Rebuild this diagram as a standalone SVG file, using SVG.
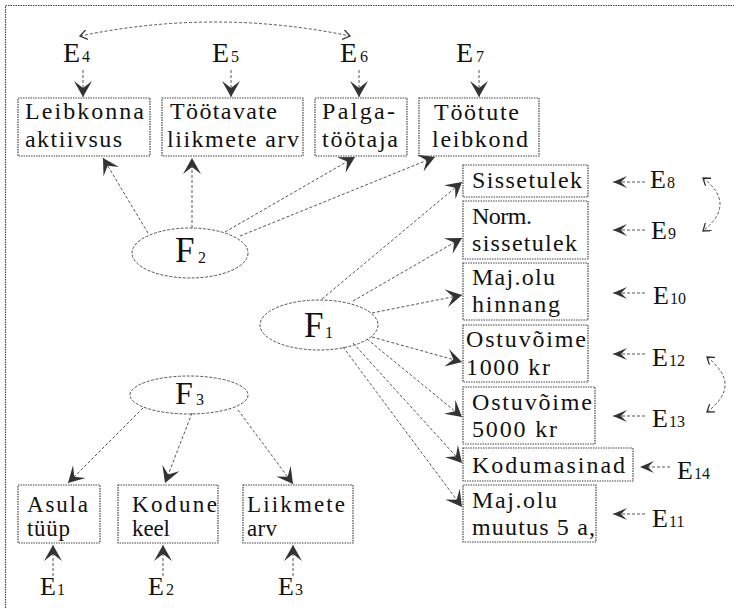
<svg xmlns="http://www.w3.org/2000/svg" width="734" height="608" viewBox="0 0 734 608">
<defs>
<style>
.bx{fill:none;stroke:#444;stroke-width:1.2;stroke-dasharray:1.5 1}
.el{fill:none;stroke:#555;stroke-width:1;stroke-dasharray:3 1.5}
.t{font-family:"Liberation Serif","Times New Roman",serif;font-size:24px;fill:#111}
.tb{font-family:"Liberation Serif","Times New Roman",serif;font-size:23px;fill:#111}
.e{font-family:"Liberation Serif","Times New Roman",serif;font-size:26px;fill:#111}
.et{font-family:"Liberation Serif","Times New Roman",serif;font-size:28px;fill:#111}
.s{font-family:"Liberation Serif","Times New Roman",serif;font-size:16px;fill:#111}
.f{font-family:"Liberation Serif","Times New Roman",serif;font-size:35px;fill:#111}
.c{fill:none;stroke:#555;stroke-width:1;stroke-dasharray:3 2}
.cb{marker-end:url(#big)}
.cs{marker-end:url(#small)}
.arc{fill:none;stroke:#555;stroke-width:1;stroke-dasharray:3 2;marker-start:url(#tiny);marker-end:url(#tiny)}
</style>
<marker id="big" markerUnits="userSpaceOnUse" markerWidth="16" markerHeight="18" viewBox="0 0 16 18" refX="16" refY="9" orient="auto">
<path d="M0,0 L16,9 L0,18 L7,9 Z" fill="#333"/>
</marker>
<marker id="small" markerUnits="userSpaceOnUse" markerWidth="14" markerHeight="12" viewBox="0 0 14 12" refX="14" refY="6" orient="auto">
<path d="M0,0 L14,6 L0,12 L6,6 Z" fill="#333"/>
</marker>
<marker id="tiny" markerUnits="userSpaceOnUse" markerWidth="8" markerHeight="10" viewBox="0 0 8 10" refX="7" refY="5" orient="auto-start-reverse">
<path d="M0,0 L7,5 L0,10" fill="none" stroke="#333" stroke-width="1.3"/>
</marker>
</defs>
<rect x="0" y="0" width="734" height="608" fill="#fff"/>
<rect x="5.5" y="5.5" width="740" height="620" fill="none" stroke="#444" stroke-width="1.2" stroke-dasharray="1.5 1"/>

<g id="connectors">
<path class="arc" d="M80,36 Q215,8 350,36"/>
<path class="arc" d="M703,178 Q737,204 703,231"/>
<path class="arc" d="M707,357 Q743,385 707,412"/>
<path class="c cb" d="M83,70 L83,97"/>
<path class="c cb" d="M231,70 L231,97"/>
<path class="c cb" d="M359,70 L359,97"/>
<path class="c cb" d="M479,70 L479,97"/>
<path class="c cb" d="M148,233 L103,158"/>
<path class="c cb" d="M192,228 L192,158"/>
<path class="c cb" d="M225,232 L355,157"/>
<path class="c cb" d="M240,236 L435,157"/>
<path class="c cb" d="M322,299 L462,182"/>
<path class="c cb" d="M353,301 L462,238"/>
<path class="c cb" d="M372,313 L462,295"/>
<path class="c cb" d="M372,337 L462,362"/>
<path class="c cb" d="M367,339 L462,417"/>
<path class="c cb" d="M353,343 L462,463"/>
<path class="c cb" d="M343,347 L462,507"/>
<path class="c cb" d="M143,408 L68,483"/>
<path class="c cb" d="M192,413 L165,483"/>
<path class="c cb" d="M238,410 L293,484"/>
<path class="c cb" d="M53,576 L53,545"/>
<path class="c cb" d="M163,576 L163,545"/>
<path class="c cb" d="M293,576 L293,545"/>
<path class="c cs" d="M645,182 L613,182"/>
<path class="c cs" d="M645,230 L613,230"/>
<path class="c cs" d="M645,293 L613,293"/>
<path class="c cs" d="M645,354 L613,354"/>
<path class="c cs" d="M645,416 L613,416"/>
<path class="c cs" d="M670,467 L640,467"/>
<path class="c cs" d="M645,514 L613,514"/>
</g>

<g id="E4"><text class="et" x="63" y="62">E</text><text class="s" x="82" y="62">4</text></g>
<g id="E5"><text class="et" x="212" y="62">E</text><text class="s" x="231" y="62">5</text></g>
<g id="E6"><text class="et" x="340" y="62">E</text><text class="s" x="360" y="62">6</text></g>
<g id="E7"><text class="et" x="456" y="62">E</text><text class="s" x="476" y="62">7</text></g>

<g id="n-leibkonna"><rect class="bx" x="18" y="98" width="132" height="58"/>
<text class="t" x="25" y="119" textLength="119" lengthAdjust="spacing">Leibkonna</text>
<text class="t" x="25" y="147" textLength="97" lengthAdjust="spacing">aktiivsus</text></g>
<g id="n-tootavate"><rect class="bx" x="162" y="98" width="141" height="58"/>
<text class="t" x="170" y="119" textLength="107" lengthAdjust="spacing">Töötavate</text>
<text class="t" x="167" y="147" textLength="132" lengthAdjust="spacing">liikmete arv</text></g>
<g id="n-palga"><rect class="bx" x="315" y="98" width="92" height="58"/>
<text class="t" x="322" y="119" textLength="73" lengthAdjust="spacing">Palga-</text>
<text class="t" x="322" y="147" textLength="76" lengthAdjust="spacing">töötaja</text></g>
<g id="n-tootute"><rect class="bx" x="419" y="98" width="120" height="58"/>
<text class="t" x="434" y="120" textLength="85" lengthAdjust="spacing">Töötute</text>
<text class="t" x="432" y="147" textLength="96" lengthAdjust="spacing">leibkond</text></g>

<g id="F2"><ellipse class="el" cx="190" cy="253" rx="58" ry="25"/>
<text class="f" x="175" y="262">F</text><text class="s" x="198" y="263">2</text></g>
<g id="F1"><ellipse class="el" cx="319" cy="325" rx="59" ry="25"/>
<text class="f" x="304" y="337">F</text><text class="s" x="325" y="338">1</text></g>
<g id="F3"><ellipse class="el" cx="189" cy="395" rx="59" ry="19"/>
<text class="f" x="175" y="404" style="font-size:32px">F</text><text class="s" x="196" y="405">3</text></g>

<g id="n-sissetulek"><rect class="bx" x="463" y="165" width="125" height="32"/>
<text class="t" x="472" y="188" textLength="110" lengthAdjust="spacing">Sissetulek</text></g>
<g id="n-norm"><rect class="bx" x="463" y="201" width="125" height="58"/>
<text class="t" x="472" y="224" textLength="60" lengthAdjust="spacing">Norm.</text>
<text class="t" x="472" y="251" textLength="105" lengthAdjust="spacing">sissetulek</text></g>
<g id="n-majolu"><rect class="bx" x="463" y="263" width="125" height="57"/>
<text class="t" x="472" y="285" textLength="83" lengthAdjust="spacing">Maj.olu</text>
<text class="t" x="472" y="312" textLength="88" lengthAdjust="spacing">hinnang</text></g>
<g id="n-ostu1000"><rect class="bx" x="463" y="325" width="125" height="57"/>
<text class="t" x="466" y="347" textLength="120" lengthAdjust="spacing">Ostuvõime</text>
<text class="t" x="466" y="375" textLength="84" lengthAdjust="spacing">1000 kr</text></g>
<g id="n-ostu5000"><rect class="bx" x="463" y="387" width="132" height="57"/>
<text class="t" x="472" y="410" textLength="120" lengthAdjust="spacing">Ostuvõime</text>
<text class="t" x="472" y="437" textLength="85" lengthAdjust="spacing">5000 kr</text></g>
<g id="n-kodumasinad"><rect class="bx" x="463" y="448" width="170" height="33"/>
<text class="t" x="472" y="473" textLength="153" lengthAdjust="spacing">Kodumasinad</text></g>
<g id="n-majolumuutus"><rect class="bx" x="463" y="485" width="133" height="57"/>
<text class="t" x="472" y="508" textLength="85" lengthAdjust="spacing">Maj.olu</text>
<text class="t" x="472" y="535" textLength="123" lengthAdjust="spacing">muutus 5 a,</text></g>

<g id="E8"><text class="e" x="650" y="188">E</text><text class="s" x="667" y="188">8</text></g>
<g id="E9"><text class="e" x="651" y="239">E</text><text class="s" x="668" y="239">9</text></g>
<g id="E10"><text class="e" x="653" y="304">E</text><text class="s" x="670" y="304">10</text></g>
<g id="E12"><text class="e" x="652" y="366">E</text><text class="s" x="669" y="366">12</text></g>
<g id="E13"><text class="e" x="652" y="427">E</text><text class="s" x="669" y="427">13</text></g>
<g id="E14"><text class="e" x="677" y="479">E</text><text class="s" x="694" y="479">14</text></g>
<g id="E11"><text class="e" x="652" y="527">E</text><text class="s" x="669" y="527">11</text></g>

<g id="n-asula"><rect class="bx" x="18" y="485" width="82" height="58"/>
<text class="tb" x="27" y="512" textLength="61" lengthAdjust="spacing">Asula</text>
<text class="tb" x="27" y="536" textLength="43" lengthAdjust="spacing">tüüp</text></g>
<g id="n-kodune"><rect class="bx" x="118" y="485" width="100" height="58"/>
<text class="tb" x="132" y="512" textLength="85" lengthAdjust="spacing">Kodune</text>
<text class="tb" x="132" y="536" textLength="38" lengthAdjust="spacing">keel</text></g>
<g id="n-liikmete"><rect class="bx" x="243" y="485" width="110" height="58"/>
<text class="tb" x="247" y="512" textLength="98" lengthAdjust="spacing">Liikmete</text>
<text class="tb" x="247" y="536" textLength="30" lengthAdjust="spacing">arv</text></g>

<g id="E1"><text class="e" x="40" y="595">E</text><text class="s" x="57" y="595">1</text></g>
<g id="E2"><text class="e" x="148" y="595">E</text><text class="s" x="166" y="595">2</text></g>
<g id="E3"><text class="e" x="278" y="595">E</text><text class="s" x="295" y="595">3</text></g>
</svg>
